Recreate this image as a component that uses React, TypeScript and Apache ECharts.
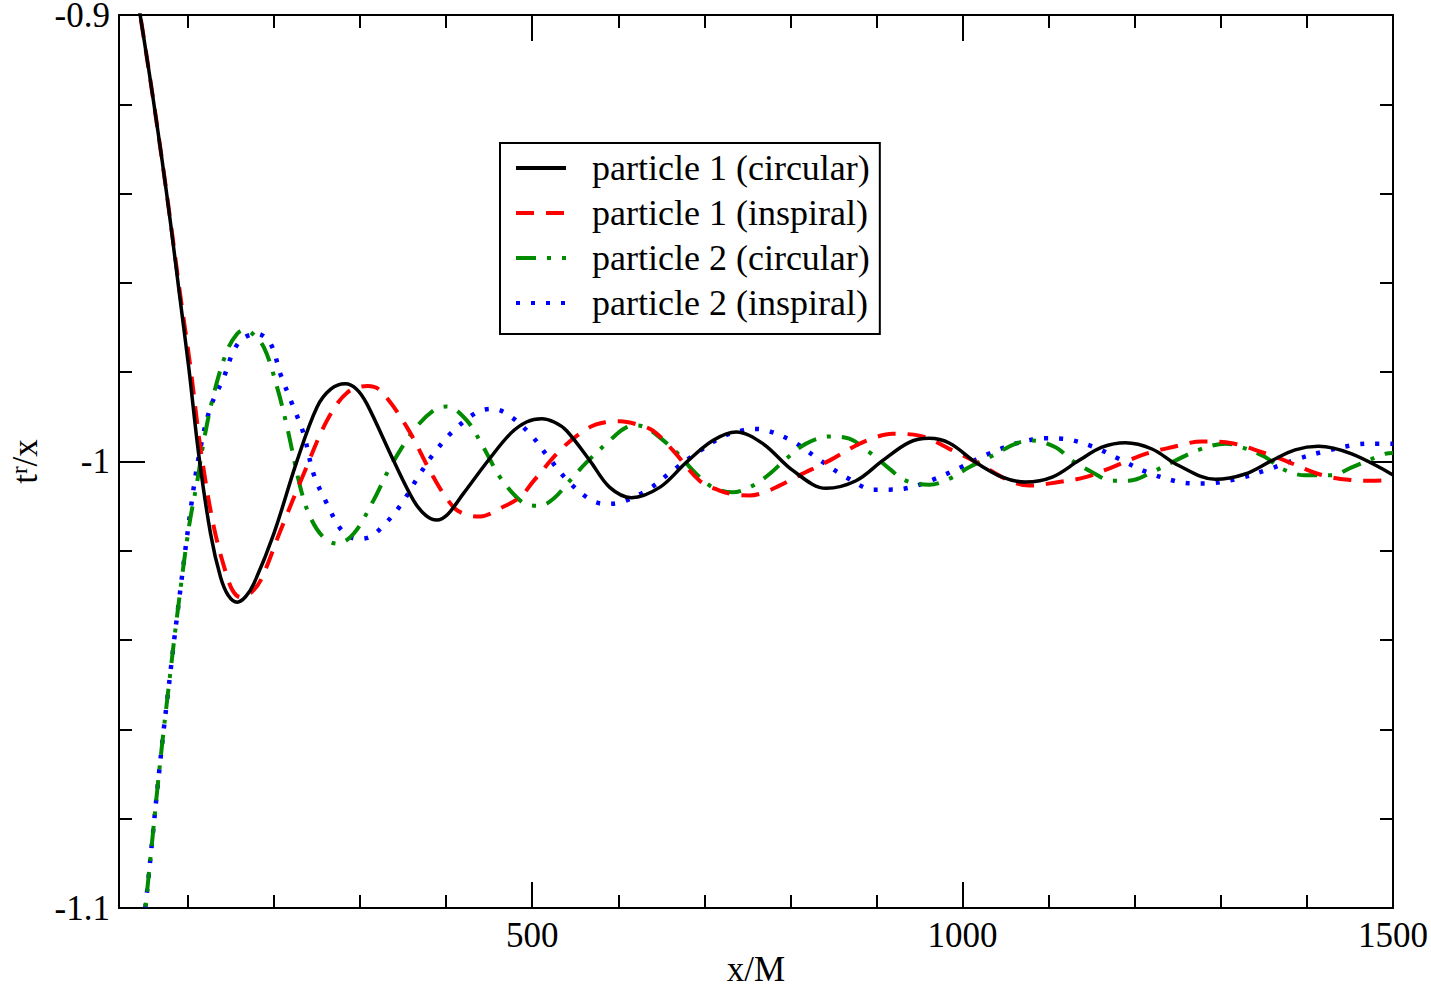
import { useEffect, useRef } from 'react';
import * as echarts from 'echarts';

// x/M vs t^r/x
const p1Circular: [number, number][] = [
  [40, -0.8945], [50, -0.9066], [60, -0.9192], [70, -0.9325], [80, -0.9468], [90, -0.9622],
  [101, -0.9789], [113, -0.999], [126.4, -1.0162], [138, -1.0259], [147, -1.0300],
  [157.3, -1.0315], [167, -1.0303], [176.6, -1.0274], [199.8, -1.0162], [226.9, -0.9998],
  [250.1, -0.9878], [266, -0.9838], [282.9, -0.9826], [296, -0.9838], [308, -0.9871],
  [338.9, -0.9998], [362.1, -1.0087], [376, -1.0120], [389.2, -1.0131], [402, -1.0118],
  [420, -1.0072], [450, -0.9995], [475, -0.9937], [494, -0.9911], [511, -0.9904],
  [526, -0.9912], [540, -0.9931], [567, -0.9998], [590.1, -1.0058], [615.3, -1.0081],
  [648.1, -1.0058], [679, -1.0002], [709.9, -0.9953], [737, -0.9934], [768, -0.996],
  [802.7, -1.002], [841.4, -1.006], [876.2, -1.0043], [907, -0.9998], [938, -0.9957],
  [961, -0.9948], [985, -0.9959], [1015.3, -1.0002], [1046.1, -1.0035], [1073.3, -1.0046],
  [1104.1, -1.0035], [1135, -0.9998], [1162, -0.9968], [1189.2, -0.9958], [1220, -0.9972],
  [1251, -1.0009], [1293.6, -1.004], [1328.3, -1.0028], [1359.2, -0.9998], [1386.3, -0.9974],
  [1413.3, -0.9966], [1452, -0.9983], [1500, -1.003],
];

const p1Inspiral: [number, number][] = [
  [40, -0.8945], [50, -0.9066], [60, -0.9192], [70, -0.9325], [80, -0.9465], [91, -0.9625],
  [103, -0.9789], [115, -0.9975], [130.2, -1.0147], [145.7, -1.0259], [153, -1.0292],
  [161.2, -1.0304], [172, -1.0296], [184.3, -1.0267], [207.5, -1.0155], [234.5, -1.0028],
  [261.7, -0.9908], [285, -0.9846], [309, -0.9831], [323.5, -0.9841], [354.4, -0.9923],
  [385.3, -1.0035], [408.5, -1.0102], [425, -1.0120], [440, -1.0123], [462.6, -1.0105],
  [485.8, -1.008], [501, -1.0045], [536, -0.9968], [567, -0.9923], [585, -0.9912],
  [601.7, -0.991], [620, -0.9916], [640.3, -0.9931], [663.5, -0.9975], [694.5, -1.0043],
  [717.7, -1.0065], [735, -1.0074], [752.5, -1.0076], [770, -1.0069], [787.2, -1.0054],
  [810.4, -1.0031], [845.2, -0.9998], [876.2, -0.9964], [900, -0.9945], [918.6, -0.9938],
  [949.6, -0.9942], [988.2, -0.9975], [1019.1, -1.0005], [1050.1, -1.0039], [1077.1, -1.0054],
  [1111.9, -1.0046], [1142.8, -1.0035], [1173.6, -1.0013], [1212.4, -0.9983], [1243.2, -0.9968],
  [1278, -0.9955], [1312.8, -0.9959], [1347.6, -0.9979], [1374.7, -0.9998], [1413.3, -1.0028],
  [1448.1, -1.0041], [1475, -1.0043], [1500, -1.0041],
];

const p2Circular: [number, number][] = [
  [46, -1.1066], [50.7, -1.0997], [58.2, -1.0856], [64.8, -1.0729], [71.4, -1.061],
  [75.9, -1.0535], [87.8, -1.0341], [101.2, -1.0147], [111, -1.0043], [118.6, -0.9953],
  [130.2, -0.9848], [145.7, -0.9751], [157.3, -0.9714], [165, -0.9706], [172.8, -0.971],
  [188.2, -0.9744], [203.7, -0.9834], [215.3, -0.9923], [230.7, -1.0058], [242.3, -1.0125],
  [257.7, -1.017], [273.3, -1.0184], [292.5, -1.0162], [315.7, -1.0087], [335, -1.0013],
  [362.1, -0.9931], [385.3, -0.9886], [400.8, -0.9877], [424, -0.9908], [443.2, -0.9968],
  [462.6, -1.0035], [481.9, -1.008], [495, -1.0097], [509, -1.0099], [525, -1.0083],
  [543.8, -1.0043], [563.1, -1.0002], [594, -0.9946], [608, -0.9925], [621.1, -0.9919],
  [634, -0.9926], [648.1, -0.9946], [667.5, -0.9979], [690.7, -1.0028], [709.9, -1.0058],
  [732.8, -1.0069], [756.3, -1.0054], [775.7, -1.0028], [795, -0.9994], [818.2, -0.996],
  [845.2, -0.9944], [868.4, -0.9949], [891.6, -0.9979], [914.8, -1.0016], [934.1, -1.0043],
  [961.2, -1.0052], [984.3, -1.0039], [1007.5, -1.0013], [1034.6, -0.9987], [1061.7, -0.996],
  [1081, -0.9953], [1108, -0.9968], [1127.3, -0.9998], [1150.5, -1.0024], [1173.6, -1.0043],
  [1193, -1.0043], [1224, -1.002], [1247.2, -0.9998], [1274.2, -0.9974], [1305.2, -0.996],
  [1324.4, -0.9968], [1351.5, -0.999], [1370.8, -1.0016], [1397.9, -1.0031], [1428.8, -1.0031],
  [1452, -1.0013], [1490.7, -0.9983], [1500, -0.9981],
];

const p2Inspiral: [number, number][] = [
  [46, -1.1066], [50.7, -1.0997], [58.2, -1.0856], [64.8, -1.0729], [71.4, -1.061],
  [75.9, -1.0535], [87.8, -1.0341], [105.2, -1.008], [114.8, -0.9968], [126.4, -0.9878],
  [141.8, -0.9811], [153.4, -0.9751], [165, -0.9723], [180.5, -0.9714], [196, -0.9736],
  [207.5, -0.9804], [221.1, -0.9871], [234.5, -0.9938], [246.1, -1.0028], [261.7, -1.0095],
  [279.1, -1.0155], [296.5, -1.0173], [310, -1.0170], [323.5, -1.0151], [346.7, -1.0099],
  [366, -1.0039], [385.3, -0.9983], [408.5, -0.9931], [435.6, -0.989], [453, -0.9882],
  [470.4, -0.9893], [497.4, -0.9938], [518.6, -0.999], [541.8, -1.0044], [568.9, -1.0087],
  [586.3, -1.0095], [603.7, -1.0091], [634.6, -1.0063], [663.5, -1.002], [692.5, -0.9979],
  [721.5, -0.9944], [738.9, -0.9933], [756.3, -0.9927], [773.7, -0.9931], [804.6, -0.9957],
  [833.6, -0.9996], [864.6, -1.0035], [897.4, -1.0063], [914.8, -1.0063], [932.2, -1.0061],
  [965, -1.0041], [997.9, -1.0013], [1028.7, -0.9984], [1063.5, -0.9959], [1098.3, -0.9948],
  [1115.7, -0.9949], [1150.5, -0.9966], [1181.4, -0.9994], [1214.3, -1.0024], [1247.2, -1.0044],
  [1266.4, -1.0049], [1283.8, -1.0049], [1318.6, -1.0039], [1353.4, -1.0019], [1386.3, -0.9996],
  [1419.1, -0.9978], [1453.9, -0.9963], [1475, -0.996], [1500, -0.996],
];

const seriesNames = [
  'particle 1 (circular)',
  'particle 1 (inspiral)',
  'particle 2 (circular)',
  'particle 2 (inspiral)',
];

const xMajor = [500, 1000, 1500];
const xMinor = [100, 200, 300, 400, 600, 700, 800, 900, 1100, 1200, 1300, 1400];
const yMajor = [-1.1, -1, -0.9];
const yMinor = [-1.08, -1.06, -1.04, -1.02, -0.98, -0.96, -0.94, -0.92];

const FONT = '"Liberation Serif", "DejaVu Serif", serif';

export default function App() {
  const chartRef = useRef<HTMLDivElement>(null);

  useEffect(() => {
    if (!chartRef.current) return;
    const chart = echarts.init(chartRef.current, null, { renderer: 'svg' });

    const xBase = { type: 'value', min: 20, max: 1500, gridIndex: 0 };
    const yBase = { type: 'value', min: -1.1, max: -0.9, gridIndex: 0 };
    const line = { lineStyle: { color: '#000', width: 2 } };
    const tick = (values: number[], length: number) => ({
      show: true,
      inside: true,
      length,
      customValues: values,
      lineStyle: { color: '#000', width: 2 },
    });
    const noLabel = { show: false };
    const plain = (v: number) => String(v);

    const option = {
      animation: false,
      backgroundColor: '#fff',
      grid: {
        left: 119,
        right: 38,
        top: 15,
        bottom: 79,
        show: true,
        borderColor: '#000',
        borderWidth: 2,
        outerBoundsMode: 'none',
      },
      legend: {
        data: seriesNames,
        orient: 'vertical',
        left: 500,
        top: 143,
        padding: [7, 10, 13, 14],
        itemGap: 9,
        itemWidth: 50,
        itemHeight: 14,
        borderColor: '#000',
        borderWidth: 2,
        backgroundColor: '#fff',
        itemStyle: { opacity: 0 },
        lineStyle: { width: 4 },
        textStyle: {
          fontFamily: FONT,
          fontSize: 36,
          color: '#000',
          lineHeight: 36,
          padding: [0, 0, 0, 21],
        },
      },
      xAxis: [
        {
          ...xBase,
          position: 'bottom',
          axisLine: { show: true, ...line },
          axisTick: tick(xMajor, 26),
          axisLabel: {
            customValues: xMajor,
            formatter: plain,
            fontFamily: FONT,
            fontSize: 35,
            color: '#000',
            margin: 10,
          },
          splitLine: { show: false },
          name: 'x/M',
          nameLocation: 'middle',
          nameGap: 44,
          nameMoveOverlap: false,
          nameTextStyle: { fontFamily: FONT, fontSize: 35, color: '#000' },
        },
        { ...xBase, position: 'bottom', axisLine: { show: false }, axisTick: tick(xMinor, 13), axisLabel: noLabel, splitLine: { show: false } },
        { ...xBase, position: 'top', axisLine: { show: true, ...line }, axisTick: tick(xMajor, 26), axisLabel: noLabel, splitLine: { show: false } },
        { ...xBase, position: 'top', axisLine: { show: false }, axisTick: tick(xMinor, 13), axisLabel: noLabel, splitLine: { show: false } },
      ],
      yAxis: [
        {
          ...yBase,
          position: 'left',
          axisLine: { show: true, ...line },
          axisTick: tick(yMajor, 26),
          axisLabel: {
            customValues: yMajor,
            formatter: plain,
            fontFamily: FONT,
            fontSize: 35,
            color: '#000',
            margin: 9,
          },
          splitLine: { show: false },
          name: '{t|t}{s|r}{t|/x}',
          nameLocation: 'middle',
          nameRotate: 90,
          nameGap: 76,
          nameMoveOverlap: false,
          nameTextStyle: {
            fontFamily: FONT,
            fontSize: 35,
            color: '#000',
            rich: {
              t: { fontFamily: FONT, fontSize: 35, color: '#000' },
              s: { fontFamily: FONT, fontSize: 23, color: '#000', verticalAlign: 'top' },
            },
          },
        },
        { ...yBase, position: 'left', axisLine: { show: false }, axisTick: tick(yMinor, 13), axisLabel: noLabel, splitLine: { show: false } },
        { ...yBase, position: 'right', axisLine: { show: true, ...line }, axisTick: tick(yMajor, 22), axisLabel: noLabel, splitLine: { show: false } },
        { ...yBase, position: 'right', axisLine: { show: false }, axisTick: tick(yMinor, 13), axisLabel: noLabel, splitLine: { show: false } },
      ],
      series: [
        {
          name: seriesNames[0],
          type: 'line',
          data: p1Circular,
          smooth: 0.35,
          symbol: 'none',
          clip: true,
          lineStyle: { color: '#000', width: 3.5 },
          itemStyle: { color: '#000' },
          z: 5,
        },
        {
          name: seriesNames[1],
          type: 'line',
          data: p1Inspiral,
          smooth: 0.35,
          symbol: 'none',
          clip: true,
          lineStyle: { color: '#ff0000', width: 4, type: [18, 12] },
          itemStyle: { color: '#ff0000' },
          z: 4,
        },
        {
          name: seriesNames[2],
          type: 'line',
          data: p2Circular,
          smooth: 0.35,
          symbol: 'none',
          clip: true,
          lineStyle: { color: '#008b00', width: 4, type: [20, 11, 4, 11] },
          itemStyle: { color: '#008b00' },
          z: 3,
        },
        {
          name: seriesNames[3],
          type: 'line',
          data: p2Inspiral,
          smooth: 0.35,
          symbol: 'none',
          clip: true,
          lineStyle: { color: '#0000ff', width: 4.5, type: [4, 11] },
          itemStyle: { color: '#0000ff' },
          z: 2,
        },
      ],
    };

    chart.setOption(option as any);

    return () => {
      chart.dispose();
    };
  }, []);

  return (
    <div
      ref={chartRef}
      style={{ position: 'absolute', left: 0, top: 0, width: 1431, height: 987, background: '#fff' }}
    />
  );
}
